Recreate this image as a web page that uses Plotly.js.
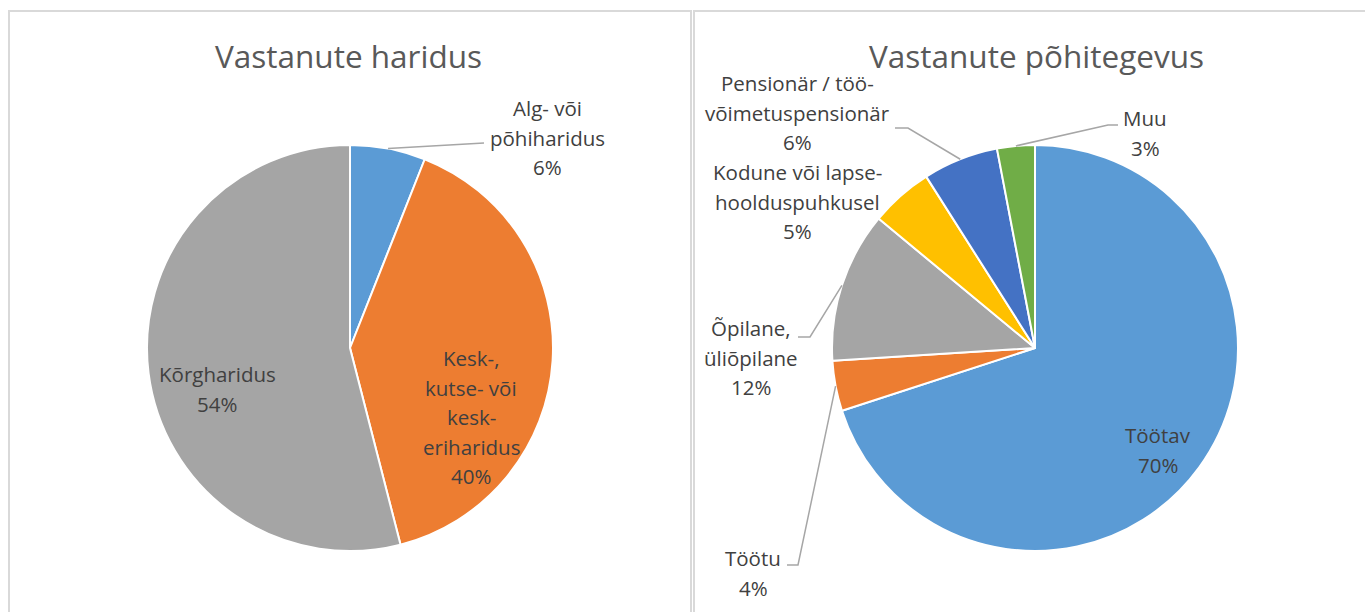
<!DOCTYPE html>
<html>
<head>
<meta charset="utf-8">
<script src="https://cdn.plot.ly/plotly-3.0.1.min.js"></script>
<style>html,body{margin:0;padding:0;background:#fff;}#chart{width:1365px;height:612px;}</style>
</head>
<body>
<div id="chart"></div>
<script>
// ---- Data ----
const eduTitle = "Vastanute haridus";
const eduLabels = ["Alg- või põhiharidus", "Kesk-, kutse- või kesk-eriharidus", "Kõrgharidus"];
const eduValues = [6, 40, 54];
const eduColors = ["#5B9BD5", "#ED7D31", "#A5A5A5"];

const actTitle = "Vastanute põhitegevus";
const actLabels = ["Töötav", "Töötu", "Õpilane, üliõpilane", "Kodune või lapsehoolduspuhkusel", "Pensionär / töövõimetuspensionär", "Muu"];
const actValues = [70, 4, 12, 5, 6, 3];
const actColors = ["#5B9BD5", "#ED7D31", "#A5A5A5", "#FFC000", "#4472C4", "#70AD47"];

// label line breaks as displayed
const eduLabelLines = [["Alg- või", "põhiharidus"], ["Kesk-,", "kutse- või", "kesk-", "eriharidus"], ["Kõrgharidus"]];
const actLabelLines = [["Töötav"], ["Töötu"], ["Õpilane,", "üliõpilane"], ["Kodune või lapse-", "hoolduspuhkusel"], ["Pensionär / töö-", "võimetuspensionär"], ["Muu"]];

// ---- Layout geometry (pixels) ----
const W = 1365, H = 612;
const FONT = "'Open Sans', 'Noto Sans', sans-serif";
const fx = x => x / W;
const fy = y => 1 - y / H;
const R = 203;
const pies = [
  {cx: 350, cy: 348, title: eduTitle, titleX: 348, labels: eduLabels, values: eduValues, colors: eduColors, lines: eduLabelLines,
   pos: [{x: 547, y: 108, leader: [[484, 143]]}, {x: 471, y: 358}, {x: 217, y: 374}]},
  {cx: 1035, cy: 348, title: actTitle, titleX: 1036, labels: actLabels, values: actValues, colors: actColors, lines: actLabelLines,
   pos: [{x: 1158, y: 435}, {x: 753, y: 558, leader: [[798, 565], [787, 565]]},
         {x: 751, y: 328, leader: [[810, 337], [798, 337]]}, {x: 797, y: 172},
         {x: 797, y: 83, leader: [[908, 128], [895, 128]]}, {x: 1145, y: 118, leader: [[1108, 125], [1118, 125]]}]}
];
const LINE = 29.6;

const traces = [], annotations = [], shapes = [];
// chart frames
shapes.push({type: 'rect', xref: 'paper', yref: 'paper', x0: fx(9), x1: fx(691), y0: fy(11), y1: fy(640), line: {color: '#D9D9D9', width: 2}});
shapes.push({type: 'rect', xref: 'paper', yref: 'paper', x0: fx(694), x1: fx(1380), y0: fy(11), y1: fy(640), line: {color: '#D9D9D9', width: 2}});

pies.forEach(p => {
  traces.push({
    type: 'pie', labels: p.labels, values: p.values, sort: false, direction: 'clockwise', rotation: 0,
    marker: {colors: p.colors, line: {color: '#FFFFFF', width: 2}},
    textinfo: 'none', hoverinfo: 'label+percent', showlegend: false,
    domain: {x: [fx(p.cx - R), fx(p.cx + R)], y: [fy(p.cy + R), fy(p.cy - R)]}
  });
  annotations.push({xref: 'paper', yref: 'paper', x: fx(p.titleX), y: fy(55), text: p.title, showarrow: false,
    xanchor: 'center', yanchor: 'middle', font: {family: FONT, size: 31.5, color: '#595959'}});
  const total = p.values.reduce((a, b) => a + b, 0);
  let cum = 0;
  p.values.forEach((v, i) => {
    const mid = (cum + v / 2) / total * 2 * Math.PI;
    cum += v;
    const pct = Math.round(v / total * 100) + '%';
    const lines = p.lines[i].concat([pct]);
    const ps = p.pos[i];
    lines.forEach((t, k) => {
      annotations.push({xref: 'paper', yref: 'paper', x: fx(ps.x), y: fy(ps.y + k * LINE), text: t, showarrow: false,
        xanchor: 'center', yanchor: 'middle', font: {family: FONT, size: 20.5, color: '#404040'}});
    });
    if (ps.leader) {
      const ex = p.cx + R * Math.sin(mid), ey = p.cy - R * Math.cos(mid);
      let path = 'M ' + fx(ex) + ' ' + fy(ey);
      ps.leader.forEach(pt => { path += ' L ' + fx(pt[0]) + ' ' + fy(pt[1]); });
      shapes.push({type: 'path', xref: 'paper', yref: 'paper', path: path, line: {color: '#A6A6A6', width: 1.5}});
    }
  });
});

const layout = {
  width: W, height: H, margin: {l: 0, r: 0, t: 0, b: 0},
  paper_bgcolor: '#FFFFFF', plot_bgcolor: '#FFFFFF',
  font: {family: FONT, color: '#404040'},
  annotations: annotations, shapes: shapes, showlegend: false
};
Plotly.newPlot('chart', traces, layout, {displayModeBar: false, staticPlot: true});
</script>
</body>
</html>
